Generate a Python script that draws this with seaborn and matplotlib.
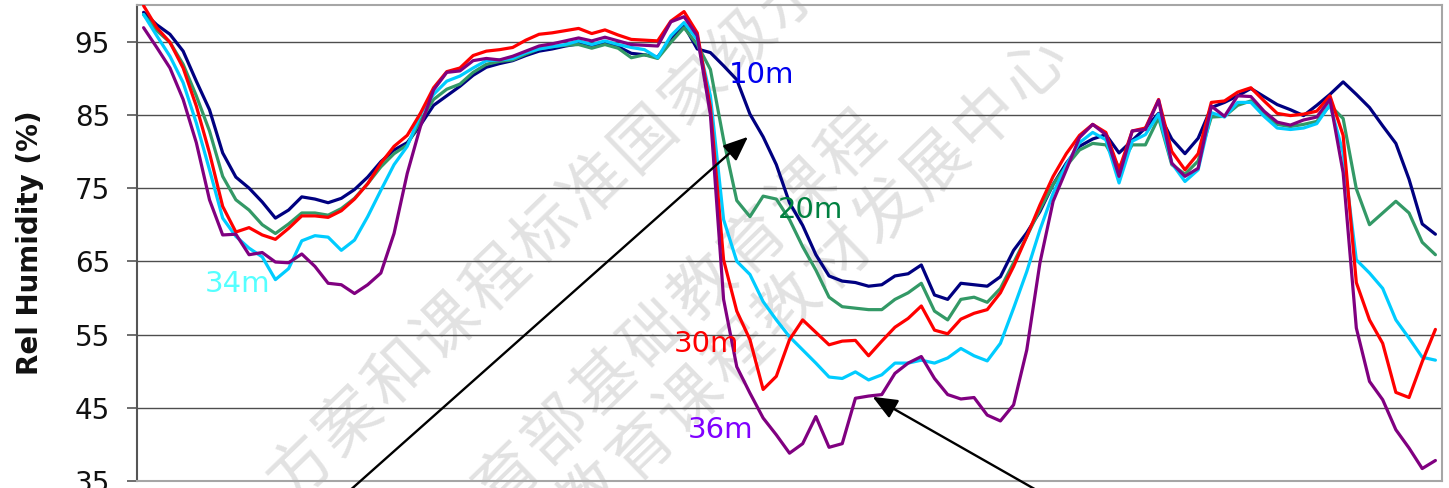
import matplotlib
matplotlib.use("Agg")
import matplotlib.pyplot as plt
import numpy as np
import pandas as pd
import seaborn as sns

# ---------------- data ----------------
hours = list(range(99))

rh_10m = [99.0, 97.3, 96.0, 93.7, 89.6, 85.7, 79.8, 76.5, 75.0, 73.1,
          70.9, 72.0, 73.8, 73.5, 73.0, 73.6, 74.8, 76.5, 78.6, 80.2,
          81.2, 83.6, 86.3, 87.6, 88.9, 90.4, 91.5, 92.0, 92.4, 93.1,
          93.7, 94.0, 94.4, 94.7, 94.5, 94.8, 94.3, 93.4, 93.2, 92.9,
          95.2, 97.2, 94.0, 93.5, 91.7, 89.8, 85.1, 82.0, 78.2, 73.0,
          69.9, 65.9, 63.0, 62.3, 62.1, 61.6, 61.8, 63.0, 63.3, 64.5,
          60.4, 59.8, 62.0, 61.8, 61.6, 62.9, 66.5, 68.9, 71.8, 75.5,
          78.4, 80.7, 81.7, 82.3, 79.8, 81.5, 83.2, 85.2, 81.7, 79.7,
          81.8, 86.0, 86.7, 87.6, 88.6, 87.5, 86.4, 85.7, 84.9, 86.3,
          87.8, 89.5, 87.8, 86.0, 83.5, 81.1, 76.2, 70.1, 68.7]

rh_20m = [98.7, 96.5, 94.9, 91.9, 87.6, 82.8, 76.6, 73.4, 72.0, 70.0,
          68.8, 70.1, 71.6, 71.6, 71.3, 72.2, 73.6, 75.6, 77.9, 79.7,
          80.9, 84.2, 87.1, 88.5, 89.2, 90.8, 91.9, 92.3, 92.5, 93.3,
          94.0, 94.3, 94.5, 94.6, 94.1, 94.6, 94.1, 92.8, 93.2, 92.7,
          94.9, 96.9, 94.6, 91.2, 81.6, 73.3, 71.1, 73.9, 73.5, 70.7,
          67.0, 63.8, 60.1, 58.8, 58.6, 58.4, 58.4, 59.8, 60.7, 62.0,
          58.2, 57.0, 59.8, 60.1, 59.4, 61.3, 64.8, 68.4, 72.1, 75.5,
          78.0, 80.2, 81.1, 80.9, 77.8, 80.9, 80.9, 84.6, 78.2, 76.9,
          78.7, 84.7, 84.8, 86.3, 86.9, 85.1, 83.7, 83.4, 83.7, 84.1,
          86.3, 84.5, 74.9, 70.0, 71.6, 73.2, 71.6, 67.6, 65.9]

rh_30m = [99.9, 96.9, 94.9, 91.4, 86.2, 79.8, 72.5, 69.0, 69.6, 68.6,
          68.0, 69.5, 71.2, 71.2, 71.0, 71.9, 73.5, 75.6, 78.4, 80.7,
          82.2, 85.2, 88.7, 90.9, 91.4, 93.1, 93.7, 93.9, 94.2, 95.2,
          96.0, 96.2, 96.5, 96.8, 96.1, 96.6, 95.9, 95.3, 95.2, 95.1,
          97.8, 99.1, 96.2, 86.0, 65.2, 58.2, 54.3, 47.5, 49.3, 54.3,
          57.0, 55.3, 53.6, 54.1, 54.2, 52.1, 54.1, 56.0, 57.2, 58.9,
          55.6, 55.1, 57.1, 57.9, 58.4, 60.7, 64.3, 68.4, 72.7, 76.6,
          79.7, 82.2, 83.7, 82.6, 77.5, 82.8, 83.2, 87.1, 80.0, 77.5,
          79.7, 86.7, 86.9, 88.1, 88.7, 86.9, 85.2, 84.9, 85.1, 85.5,
          87.6, 82.2, 62.1, 57.0, 53.8, 47.1, 46.4, 51.3, 55.7]

rh_34m = [98.7, 95.8, 93.0, 89.4, 83.9, 77.5, 70.9, 68.4, 66.8, 65.6,
          62.5, 64.0, 67.8, 68.5, 68.3, 66.5, 67.9, 71.1, 74.7, 78.2,
          80.7, 85.1, 87.8, 89.6, 90.3, 91.4, 92.4, 92.5, 92.7, 93.5,
          94.0, 94.3, 94.6, 95.1, 94.6, 95.1, 94.6, 94.2, 93.9, 92.8,
          95.8, 97.6, 95.3, 87.6, 70.7, 65.0, 63.2, 59.5, 57.0, 54.7,
          52.9, 51.1, 49.2, 49.0, 49.9, 48.8, 49.5, 51.1, 51.1, 51.5,
          51.1, 51.8, 53.1, 52.1, 51.4, 53.8, 58.6, 63.6, 69.3, 74.3,
          78.2, 81.2, 82.6, 81.6, 75.7, 81.4, 82.3, 85.1, 78.4, 75.9,
          77.5, 85.3, 84.7, 86.7, 86.7, 84.8, 83.2, 83.0, 83.2, 83.8,
          86.4, 79.8, 65.2, 63.4, 61.3, 57.0, 54.5, 51.9, 51.5]

rh_36m = [96.9, 94.2, 91.4, 87.1, 81.2, 73.4, 68.6, 68.7, 65.9, 66.2,
          64.9, 64.8, 66.0, 64.3, 62.0, 61.8, 60.6, 61.8, 63.4, 68.8,
          77.0, 83.4, 88.4, 90.8, 91.0, 92.4, 92.7, 92.5, 93.0, 93.7,
          94.4, 94.7, 95.1, 95.5, 95.1, 95.6, 95.1, 94.6, 94.5, 94.4,
          97.7, 98.4, 95.8, 85.0, 59.8, 50.6, 47.0, 43.6, 41.3, 38.8,
          40.1, 43.8, 39.6, 40.1, 46.3, 46.6, 46.8, 49.7, 51.1, 52.0,
          49.0, 46.8, 46.2, 46.4, 44.0, 43.2, 45.4, 52.9, 64.8, 73.2,
          77.5, 81.9, 83.7, 82.3, 76.6, 82.8, 83.0, 87.0, 78.4, 76.6,
          77.7, 86.2, 84.8, 87.6, 87.5, 85.5, 84.0, 83.6, 84.3, 84.7,
          87.1, 77.1, 55.9, 48.6, 46.1, 42.0, 39.5, 36.7, 37.8]

heights = ["10m", "20m", "30m", "34m", "36m"]
series = [rh_10m, rh_20m, rh_30m, rh_34m, rh_36m]
line_colors = ["#000080", "#339966", "#ff0000", "#00ccff", "#800080"]
label_colors = ["#0000ee", "#008040", "#ff0000", "#55ffff", "#8000ff"]
label_pos = [(46.9, 90.4), (50.6, 72.0), (42.7, 53.7), (7.1, 61.9), (43.8, 42.0)]

y_ticks = [35, 45, 55, 65, 75, 85, 95]
y_label = "Rel Humidity (%)"

wm_line1 = "方案和课程标准国家级示"
wm_line2 = "育部基础教育课程"
wm_line3 = "教育课程教材发展中心"

# ---------------- figure ----------------
sns.set_theme(style="white")
plt.rcParams["font.family"] = ["DejaVu Sans"]

W, H = 1449, 488
fig = plt.figure(figsize=(W / 100, H / 100), dpi=100)
fig.patch.set_facecolor("white")
ax = fig.add_axes([137 / W, 1 - 481 / H, 1305 / W, 476 / H])
ax.set_facecolor("white")

df = pd.concat(
    [pd.DataFrame({"hour": hours, "rh": s, "height": h}) for h, s in zip(heights, series)],
    ignore_index=True,
)
draw_order = ["10m", "20m", "34m", "30m", "36m"]
palette = dict(zip(heights, line_colors))
sns.lineplot(data=df, x="hour", y="rh", hue="height", hue_order=draw_order,
             palette=palette, estimator=None, sort=False, linewidth=2.3,
             legend=False, ax=ax, zorder=3)

ax.set_xlim(-0.5, 98.5)
ax.set_ylim(35, 100)
ax.set_yticks(y_ticks)
ax.set_xticks([])
ax.set_xlabel("")
ax.yaxis.grid(True, color="#4d4d4d", linewidth=1.0)
ax.xaxis.grid(False)
ax.set_axisbelow(True)

ax.tick_params(axis="y", left=True, direction="out", length=7.5, width=1.2,
               color="#555555", labelsize=20, pad=12, labelcolor="#111111")
for side, sp in ax.spines.items():
    sp.set_visible(True)
    if side == "left":
        sp.set_color("#555555")
        sp.set_linewidth(1.5)
    else:
        sp.set_color("#a6a6a6")
        sp.set_linewidth(1.5)

ax.set_ylabel(y_label, fontsize=20, fontweight="bold", color="#111111")
ax.yaxis.set_label_coords(-0.071, 0.5)

# series labels
for txt, col, (xi, yv) in zip(heights, label_colors, label_pos):
    ax.text(xi, yv, txt, color=col, fontsize=21, ha="center", va="center", zorder=5)

# arrows
arrow_kw = dict(arrowstyle="-|>,head_length=0.6,head_width=0.25", color="black",
                lw=1.7, mutation_scale=25, shrinkA=0, shrinkB=0)
ax.annotate("", xy=(45.85, 82.0), xytext=(13.14, 29.7), arrowprops=arrow_kw,
            annotation_clip=False, zorder=6)
ax.annotate("", xy=(55.3, 46.5), xytext=(71.7, 29.7), arrowprops=arrow_kw,
            annotation_clip=False, zorder=6)

# faint diagonal watermark
step = (49.2, -47.3)
wm_font = ["Noto Sans CJK SC", "DejaVu Sans"]


def put_line(text, anchor_idx, anchor_px):
    for k, ch in enumerate(text):
        px = anchor_px[0] + (k - anchor_idx) * step[0]
        py = anchor_px[1] + (k - anchor_idx) * step[1]
        ax.text(px / W, 1 - py / H, ch, transform=fig.transFigure, fontsize=46,
                family=wm_font, fontweight="light", color="#e2e2e2", rotation=44,
                rotation_mode="anchor", ha="center", va="center",
                zorder=0.2, clip_on=False)


put_line(wm_line1, 0, (300, 469))
put_line(wm_line2, 1, (557, 430))
put_line(wm_line3, 9, (1035, 70))

fig.savefig("out.png", dpi=100, facecolor="white")
